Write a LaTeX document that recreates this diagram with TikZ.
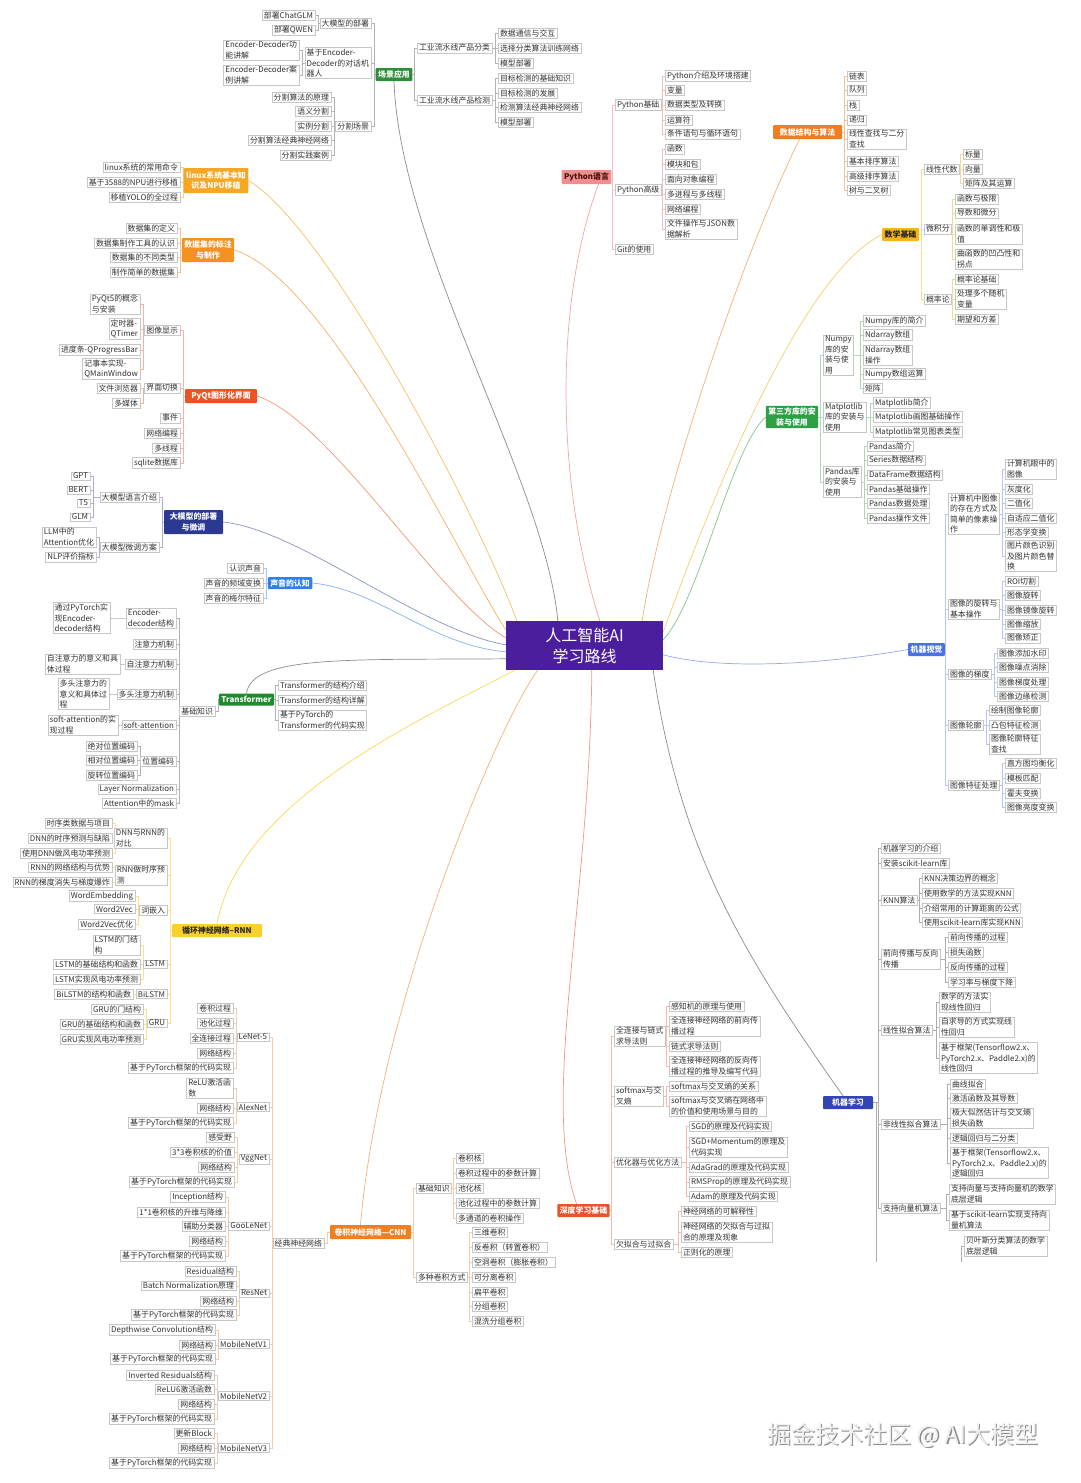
\documentclass[tikz,border=0pt]{standalone}
\usepackage{fontspec}
\setmainfont{Noto Sans CJK SC}
\usetikzlibrary{backgrounds}
\definecolor{cPurple}{HTML}{4B1E9E}
\definecolor{cScene}{HTML}{2F8C3A}
\definecolor{cLinux}{HTML}{F5A623}
\definecolor{cData}{HTML}{F39121}
\definecolor{cPyqt}{HTML}{EA5421}
\definecolor{cLlm}{HTML}{2B3990}
\definecolor{cSound}{HTML}{2F80ED}
\definecolor{cTrans}{HTML}{1E8C2E}
\definecolor{cRnn}{HTML}{FAD02C}
\definecolor{cCnn}{HTML}{F07F22}
\definecolor{cDeep}{HTML}{E8532B}
\definecolor{cMl}{HTML}{3444B3}
\definecolor{cCv}{HTML}{4A72E5}
\definecolor{cThird}{HTML}{2EA043}
\definecolor{cMath}{HTML}{F4B41A}
\definecolor{cDs}{HTML}{F07D22}
\definecolor{cPy}{HTML}{F28D8D}
\definecolor{cPyText}{HTML}{4A0E0E}
\newcommand\fs{\fontsize{7.9}{10.5}\selectfont}
\tikzset{
 lf/.style={draw=black!22, line width=0.4pt, fill=white, inner xsep=1.8pt, inner ysep=1.2pt, align=left, font=\fs, text=black!80},
 mt/.style={fill=#1, inner xsep=2.5pt, inner ysep=2pt, align=center, font=\fs\bfseries, text=white, rounded corners=1pt},
 cn/.style={draw=#1, line width=0.5pt},
 mc/.style={draw=#1, line width=0.7pt},
}
\newcommand\lfw[4]{\node[lf,anchor=west] (#1) at (#2,#3) {#4};}
\newcommand\lfe[4]{\node[lf,anchor=east] (#1) at (#2,#3) {#4};}
\newcommand\brR[3]{\foreach \kid in {#3}{\draw[cn=#1] (#2.east) -| ([xshift=-3pt]\kid.west) -- (\kid.west);}}
\newcommand\brL[3]{\foreach \kid in {#3}{\draw[cn=#1] (#2.west) -| ([xshift=3pt]\kid.east) -- (\kid.east);}}
\begin{document}
\begin{tikzpicture}[x=1pt,y=-1pt]
\useasboundingbox (0,0) rectangle (1080,1483);

% root
\node[fill=cPurple, text=white, font=\fontsize{16}{21}\selectfont, align=center, minimum width=157, minimum height=49, inner sep=0pt] (root) at (584.5,645.5) {人工智能AI\\学习路线};

% ---------- scene
\node[mt=cScene,minimum width=36,minimum height=13] (scene) at (394,74.5) {场景应用};
\lfe{s1}{371}{23}{大模型的部署}
\lfe{s2}{371}{63}{基于Encoder-\\Decoder的对话机\\器人}
\lfe{s3}{371}{126}{分割场景}
\lfe{s1a}{315}{15}{部署ChatGLM}
\lfe{s1b}{315}{30}{部署QWEN}
\lfe{s2a}{299}{50}{Encoder-Decoder功\\能讲解}
\lfe{s2b}{299}{75}{Encoder-Decoder案\\例讲解}
\lfe{s3a}{331}{97}{分割算法的原理}
\lfe{s3b}{331}{111}{语义分割}
\lfe{s3c}{331}{126}{实例分割}
\lfe{s3d}{331}{140}{分割算法经典神经网络}
\lfe{s3e}{331}{155}{分割实践案例}
\lfw{s4}{417}{48}{工业流水线产品分类}
\lfw{s5}{417}{100}{工业流水线产品检测}
\lfw{s4a}{498}{33}{数据通信与交互}
\lfw{s4b}{498}{48}{选择分类算法训练网络}
\lfw{s4c}{498}{63}{模型部署}
\lfw{s5a}{498}{78}{目标检测的基础知识}
\lfw{s5b}{498}{93}{目标检测的发展}
\lfw{s5c}{498}{107}{检测算法经典神经网络}
\lfw{s5d}{498}{122}{模型部署}

% ---------- linux
\node[mt=cLinux,minimum width=64,minimum height=25] (linux) at (216,180.5) {linux系统基本知\\识及NPU移植};
\lfe{l1}{180}{167}{linux系统的常用命令}
\lfe{l2}{180}{182}{基于3588的NPU进行移植}
\lfe{l3}{180}{197}{移植YOLO的全过程}

% ---------- dataset
\node[mt=cData,minimum width=52,minimum height=24] (dataset) at (208,250) {数据集的标注\\与制作};
\lfe{d1}{177}{228}{数据集的定义}
\lfe{d2}{177}{243}{数据集制作工具的认识}
\lfe{d3}{177}{257}{数据集的不同类型}
\lfe{d4}{177}{272}{制作简单的数据集}

% ---------- pyqt
\node[mt=cPyqt,minimum width=72,minimum height=14] (pyqt) at (221,396) {PyQt图形化界面};
\lfe{q1}{180}{330}{图像显示}
\lfe{q2}{180}{388}{界面切换}
\lfe{q3}{180}{418}{事件}
\lfe{q4}{180}{433}{网络编程}
\lfe{q5}{180}{448}{多线程}
\lfe{q6}{180}{463}{sqlite数据库}
\lfe{q1a}{140}{304}{PyQt5的概念\\与安装}
\lfe{q1b}{140}{329}{定时器-\\QTimer}
\lfe{q1c}{140}{350}{进度条-QProgressBar}
\lfe{q1d}{140}{369}{记事本实现-\\QMainWindow}
\lfe{q2a}{140}{388}{文件浏览器}
\lfe{q2b}{140}{403}{多媒体}

% ---------- llm
\node[mt=cLlm,minimum width=59,minimum height=24] (llm) at (193.5,522) {大模型的部署\\与微调};
\lfe{m1}{159}{497}{大模型语言介绍}
\lfe{m2}{159}{547}{大模型微调方案}
\lfe{m1a}{90}{476}{GPT}
\lfe{m1b}{90}{490}{BERT}
\lfe{m1c}{90}{503}{T5}
\lfe{m1d}{90}{517}{GLM}
\lfe{m2a}{96}{537}{LLM中的\\Attention优化}
\lfe{m2b}{96}{557}{NLP评价指标}

% ---------- sound
\node[mt=cSound,minimum width=44,minimum height=12] (sound) at (290,583) {声音的认知};
\lfe{a1}{263}{568}{认识声音}
\lfe{a2}{263}{583}{声音的频域变换}
\lfe{a3}{263}{598}{声音的梅尔特征}

% ---------- transformer
\node[mt=cTrans,minimum width=51,minimum height=12] (trans) at (246.5,699.5) {Transformer};
\lfw{t1}{278}{685}{Transformer的结构介绍}
\lfw{t2}{278}{700}{Transformer的结构详解}
\lfw{t3}{278}{720}{基于PyTorch的\\Transformer的代码实现}
\lfe{t4}{215}{711}{基础知识}
\lfe{b1}{176}{618}{Encoder-\\decoder结构}
\lfe{b2}{176}{644}{注意力机制}
\lfe{b3}{176}{664}{自注意力机制}
\lfe{b4}{176}{694}{多头注意力机制}
\lfe{b5}{176}{725}{soft-attention}
\lfe{b6}{176}{761}{位置编码}
\lfe{b7}{176}{789}{Layer Normalization}
\lfe{b8}{176}{803}{Attention中的mask}
\lfe{b1a}{110}{618}{通过PyTorch实\\现Encoder-\\decoder结构}
\lfe{b3a}{120}{664}{自注意力的意义和具\\体过程}
\lfe{b4a}{109}{694}{多头注意力的\\意义和具体过\\程}
\lfe{b5a}{118}{725}{soft-attention的实\\现过程}
\lfe{b6a}{137}{746}{绝对位置编码}
\lfe{b6b}{137}{760}{相对位置编码}
\lfe{b6c}{137}{775}{旋转位置编码}

% ---------- rnn
\node[mt=cRnn,text=black!85,minimum width=90,minimum height=13] (rnn) at (217,930.5) {循环神经网络--RNN};
\lfe{r1}{167}{838}{DNN与RNN的\\对比}
\lfe{r2}{167}{875}{RNN做时序预\\测}
\lfe{r3}{167}{910}{词嵌入}
\lfe{r4}{167}{964}{LSTM}
\lfe{r5}{167}{994}{BiLSTM}
\lfe{r6}{167}{1023}{GRU}
\lfe{r1a}{112}{823}{时序类数据与项目}
\lfe{r1b}{112}{838}{DNN的时序预测与缺陷}
\lfe{r1c}{112}{853}{使用DNN做风电功率预测}
\lfe{r2a}{112}{867}{RNN的网络结构与优势}
\lfe{r2b}{112}{882}{RNN的梯度消失与梯度爆炸}
\lfe{r3a}{135}{896}{WordEmbedding}
\lfe{r3b}{135}{909}{Word2Vec}
\lfe{r3c}{135}{924}{Word2Vec优化}
\lfe{r4a}{140}{945}{LSTM的门结\\构}
\lfe{r4b}{140}{964}{LSTM的基础结构和函数}
\lfe{r4c}{140}{979}{LSTM实现风电功率预测}
\lfe{r5a}{133}{994}{BiLSTM的结构和函数}
\lfe{r6a}{143}{1009}{GRU的门结构}
\lfe{r6b}{143}{1024}{GRU的基础结构和函数}
\lfe{r6c}{143}{1039}{GRU实现风电功率预测}

% ---------- cnn
\node[mt=cCnn,minimum width=81,minimum height=14] (cnn) at (370.5,1232) {卷积神经网络—CNN};
\lfe{c1}{324}{1243}{经典神经网络}
\lfw{c2}{416}{1188}{基础知识}
\lfw{c3}{416}{1277}{多种卷积方式}
\lfe{n1}{269}{1037}{LeNet-5}
\lfe{n2}{269}{1107}{AlexNet}
\lfe{n3}{269}{1159}{VggNet}
\lfe{n4}{269}{1226}{GooLeNet}
\lfe{n5}{269}{1293}{ResNet}
\lfe{n6}{269}{1344}{MobileNetV1}
\lfe{n7}{269}{1396}{MobileNetV2}
\lfe{n8}{269}{1448}{MobileNetV3}
\lfe{n1a}{233}{1008}{卷积过程}
\lfe{n1b}{233}{1023}{池化过程}
\lfe{n1c}{233}{1038}{全连接过程}
\lfe{n1d}{233}{1053}{网络结构}
\lfe{n1e}{233}{1068}{基于PyTorch框架的代码实现}
\lfe{n2a}{233}{1088}{ReLU激活函\\数}
\lfe{n2b}{233}{1108}{网络结构}
\lfe{n2c}{233}{1123}{基于PyTorch框架的代码实现}
\lfe{n3a}{234}{1137}{感受野}
\lfe{n3b}{234}{1152}{3*3卷积核的价值}
\lfe{n3c}{234}{1167}{网络结构}
\lfe{n3d}{234}{1182}{基于PyTorch框架的代码实现}
\lfe{n4a}{225}{1197}{Inception结构}
\lfe{n4b}{225}{1212}{1*1卷积核的升维与降维}
\lfe{n4c}{225}{1226}{辅助分类器}
\lfe{n4d}{225}{1241}{网络结构}
\lfe{n4e}{225}{1256}{基于PyTorch框架的代码实现}
\lfe{n5a}{236}{1271}{Residual结构}
\lfe{n5b}{236}{1286}{Batch Normalization原理}
\lfe{n5c}{236}{1301}{网络结构}
\lfe{n5d}{236}{1315}{基于PyTorch框架的代码实现}
\lfe{n6a}{215}{1330}{Depthwise Convolution结构}
\lfe{n6b}{215}{1345}{网络结构}
\lfe{n6c}{215}{1359}{基于PyTorch框架的代码实现}
\lfe{n7a}{214}{1375}{Inverted Residuals结构}
\lfe{n7b}{214}{1389}{ReLU6激活函数}
\lfe{n7c}{214}{1404}{网络结构}
\lfe{n7d}{214}{1419}{基于PyTorch框架的代码实现}
\lfe{n8a}{214}{1433}{更新Block}
\lfe{n8b}{214}{1448}{网络结构}
\lfe{n8c}{214}{1463}{基于PyTorch框架的代码实现}
\lfw{c2a}{456}{1158}{卷积核}
\lfw{c2b}{456}{1173}{卷积过程中的参数计算}
\lfw{c2c}{456}{1188}{池化核}
\lfw{c2d}{456}{1203}{池化过程中的参数计算}
\lfw{c2e}{456}{1218}{多通道的卷积操作}
\lfw{c3a}{472}{1232}{三维卷积}
\lfw{c3b}{472}{1247}{反卷积（转置卷积）}
\lfw{c3c}{472}{1262}{空洞卷积（膨胀卷积）}
\lfw{c3d}{472}{1277}{可分离卷积}
\lfw{c3e}{472}{1292}{扁平卷积}
\lfw{c3f}{472}{1306}{分组卷积}
\lfw{c3g}{472}{1321}{混洗分组卷积}

% ---------- deep learning
\node[mt=cDeep,minimum width=51,minimum height=13] (deep) at (583.5,1210.5) {深度学习基础};
\lfw{e1}{614}{1036}{全连接与链式\\求导法则}
\lfw{e2}{614}{1096}{softmax与交\\叉熵}
\lfw{e3}{614}{1162}{优化器与优化方法}
\lfw{e4}{614}{1244}{欠拟合与过拟合}
\lfw{e1a}{669}{1006}{感知机的原理与使用}
\lfw{e1b}{669}{1026}{全连接神经网络的前向传\\播过程}
\lfw{e1c}{669}{1046}{链式求导法则}
\lfw{e1d}{669}{1066}{全连接神经网络的反向传\\播过程的推导及编写代码}
\lfw{e2a}{669}{1086}{softmax与交叉熵的关系}
\lfw{e2b}{669}{1106}{softmax与交叉熵在网络中\\的价值和使用场景与目的}
\lfw{e3a}{689}{1126}{SGD的原理及代码实现}
\lfw{e3b}{689}{1147}{SGD+Momentum的原理及\\代码实现}
\lfw{e3c}{689}{1167}{AdaGrad的原理及代码实现}
\lfw{e3d}{689}{1182}{RMSProp的原理及代码实现}
\lfw{e3e}{689}{1196}{Adam的原理及代码实现}
\lfw{e4a}{681}{1211}{神经网络的可解释性}
\lfw{e4b}{681}{1232}{神经网络的欠拟合与过拟\\合的原理及现象}
\lfw{e4c}{681}{1252}{正则化的原理}

% ---------- python
\node[mt=cPy,text=cPyText,minimum width=47,minimum height=14] (py) at (586.5,177) {Python语言};
\lfw{p1}{615}{105}{Python基础}
\lfw{p2}{615}{190}{Python高级}
\lfw{p3}{615}{249}{Git的使用}
\lfw{p1a}{665}{76}{Python介绍及环境搭建}
\lfw{p1b}{665}{90}{变量}
\lfw{p1c}{665}{105}{数据类型及转换}
\lfw{p1d}{665}{120}{运算符}
\lfw{p1e}{665}{134}{条件语句与循环语句}
\lfw{p2a}{665}{149}{函数}
\lfw{p2b}{665}{164}{模块和包}
\lfw{p2c}{665}{179}{面向对象编程}
\lfw{p2d}{665}{194}{多进程与多线程}
\lfw{p2e}{665}{209}{网络编程}
\lfw{p2f}{665}{229}{文件操作与JSON数\\据解析}

% ---------- data structures
\node[mt=cDs,minimum width=69,minimum height=14] (ds) at (807.5,132) {数据结构与算法};
\lfw{ds1}{847}{76}{链表}
\lfw{ds2}{847}{90}{队列}
\lfw{ds3}{847}{105}{栈}
\lfw{ds4}{847}{120}{递归}
\lfw{ds5}{847}{139}{线性查找与二分\\查找}
\lfw{ds6}{847}{161}{基本排序算法}
\lfw{ds7}{847}{176}{高级排序算法}
\lfw{ds8}{847}{190}{树与二叉树}

% ---------- math
\node[mt=cMath,text=black!85,minimum width=35,minimum height=13] (math) at (900.5,234.5) {数学基础};
\lfw{h1}{924}{169}{线性代数}
\lfw{h2}{924}{229}{微积分}
\lfw{h3}{924}{299}{概率论}
\lfw{h1a}{963}{154}{标量}
\lfw{h1b}{963}{169}{向量}
\lfw{h1c}{963}{183}{矩阵及其运算}
\lfw{h2a}{955}{199}{函数与极限}
\lfw{h2b}{955}{213}{导数和微分}
\lfw{h2c}{955}{234}{函数的单调性和极\\值}
\lfw{h2d}{955}{259}{曲函数的凹凸性和\\拐点}
\lfw{h3a}{955}{279}{概率论基础}
\lfw{h3b}{955}{299}{处理多个随机\\变量}
\lfw{h3c}{955}{319}{期望和方差}

% ---------- third-party
\node[mt=cThird,minimum width=52,minimum height=22] (third) at (792,417) {第三方库的安\\装与使用};
\lfw{k1}{823}{355}{Numpy\\库的安\\装与使\\用}
\lfw{k2}{823}{417}{Matplotlib\\库的安装与\\使用}
\lfw{k3}{823}{482}{Pandas库\\的安装与\\使用}
\lfw{k1a}{863}{321}{Numpy库的简介}
\lfw{k1b}{863}{335}{Ndarray数组}
\lfw{k1c}{863}{355}{Ndarray数组\\操作}
\lfw{k1d}{863}{374}{Numpy数组运算}
\lfw{k1e}{863}{388}{矩阵}
\lfw{k2a}{873}{403}{Matplotlib简介}
\lfw{k2b}{873}{417}{Matplotlib画图基础操作}
\lfw{k2c}{873}{432}{Matplotlib常见图表类型}
\lfw{k3a}{867}{446}{Pandas简介}
\lfw{k3b}{867}{460}{Series数据结构}
\lfw{k3c}{867}{475}{DataFrame数据结构}
\lfw{k3d}{867}{489}{Pandas基础操作}
\lfw{k3e}{867}{503}{Pandas数据处理}
\lfw{k3f}{867}{518}{Pandas操作文件}

% ---------- vision
\node[mt=cCv,minimum width=35,minimum height=13] (cv) at (926.5,649.5) {机器视觉};
\lfw{v1}{948}{514}{计算机中图像\\的存在方式及\\简单的像素操\\作}
\lfw{v2}{948}{609}{图像的旋转与\\基本操作}
\lfw{v3}{948}{674}{图像的梯度}
\lfw{v4}{948}{725}{图像轮廓}
\lfw{v5}{948}{785}{图像特征处理}
\lfw{v1a}{1005}{469}{计算机眼中的\\图像}
\lfw{v1b}{1005}{489}{灰度化}
\lfw{v1c}{1005}{503}{二值化}
\lfw{v1d}{1005}{518}{自适应二值化}
\lfw{v1e}{1005}{532}{形态学变换}
\lfw{v1f}{1005}{556}{图片颜色识别\\及图片颜色替\\换}
\lfw{v2a}{1005}{581}{ROI切割}
\lfw{v2b}{1005}{595}{图像旋转}
\lfw{v2c}{1005}{610}{图像镜像旋转}
\lfw{v2d}{1005}{624}{图像缩放}
\lfw{v2e}{1005}{638}{图像矫正}
\lfw{v3a}{997}{653}{图像添加水印}
\lfw{v3b}{997}{667}{图像噪点消除}
\lfw{v3c}{997}{682}{图像梯度处理}
\lfw{v3d}{997}{696}{图像边缘检测}
\lfw{v4a}{989}{710}{绘制图像轮廓}
\lfw{v4b}{989}{725}{凸包特征检测}
\lfw{v4c}{989}{744}{图像轮廓特征\\查找}
\lfw{v5a}{1005}{763}{直方图均衡化}
\lfw{v5b}{1005}{778}{模板匹配}
\lfw{v5c}{1005}{793}{霍夫变换}
\lfw{v5d}{1005}{807}{图像亮度变换}

% ---------- machine learning
\node[mt=cMl,minimum width=50,minimum height=13] (ml) at (848,1102.5) {机器学习};
\lfw{g1}{881}{848}{机器学习的介绍}
\lfw{g2}{881}{863}{安装scikit-learn库}
\lfw{g3}{881}{900}{KNN算法}
\lfw{g4}{881}{959}{前向传播与反向\\传播}
\lfw{g5}{881}{1030}{线性拟合算法}
\lfw{g6}{881}{1124}{非线性拟合算法}
\lfw{g7}{881}{1208}{支持向量机算法}
\lfw{g3a}{922}{878}{KNN决策边界的概念}
\lfw{g3b}{922}{893}{使用数学的方法实现KNN}
\lfw{g3c}{922}{908}{介绍常用的计算距离的公式}
\lfw{g3d}{922}{922}{使用scikit-learn库实现KNN}
\lfw{g4a}{948}{937}{前向传播的过程}
\lfw{g4b}{948}{952}{损失函数}
\lfw{g4c}{948}{967}{反向传播的过程}
\lfw{g4d}{948}{982}{学习率与梯度下降}
\lfw{g5a}{939}{1002}{数学的方法实\\现线性回归}
\lfw{g5b}{939}{1027}{自求导的方式实现线\\性回归}
\lfw{g5c}{939}{1058}{基于框架(Tensorflow2.x、\\PyTorch2.x、Paddle2.x)的\\线性回归}
\lfw{g6a}{950}{1084}{曲线拟合}
\lfw{g6b}{950}{1098}{激活函数及其导数}
\lfw{g6c}{950}{1118}{极大似然估计与交叉熵\\损失函数}
\lfw{g6d}{950}{1138}{逻辑回归与二分类}
\lfw{g6e}{950}{1163}{基于框架(Tensorflow2.x、\\PyTorch2.x、Paddle2.x)的\\逻辑回归}
\lfw{g7a}{949}{1194}{支持向量与支持向量机的数学\\底层逻辑}
\lfw{g7b}{949}{1220}{基于scikit-learn实现支持向\\量机算法}
\lfw{g9}{964}{1246}{贝叶斯分类算法的数学\\底层逻辑}
\coordinate (gEnd) at (876,1262);
\coordinate (g9p) at (961,1262);

% watermark
\node[font=\fontsize{24}{28}\selectfont, text=black!45] (wms) at (904.2,1436.2) {掘金技术社区 @ AI大模型};
\node[font=\fontsize{24}{28}\selectfont, text=black!6] (wm) at (903,1435) {掘金技术社区 @ AI大模型};

% ---------- connectors
\begin{pgfonlayer}{background}
\fill[white] (0,0) rectangle (1080,1483);
% main curves
\draw[mc=black!45] ([xshift=52pt]root.north west) .. controls (545,480) and (400,250) .. (scene.south);
\draw[mc=cLinux!70] ([xshift=11pt]root.north west) .. controls (480,520) and (330,230) .. (linux.east);
\draw[mc=cData!70] ([yshift=-9pt]root.north west) .. controls (460,560) and (330,280) .. (dataset.east);
\draw[mc=cPyqt!60] ([yshift=-17pt]root.north west) .. controls (440,600) and (330,420) .. (pyqt.east);
\draw[mc=cLlm!55] ([yshift=-24pt]root.north west) .. controls (420,630) and (300,530) .. (llm.east);
\draw[mc=cSound!60] ([yshift=-31pt]root.north west) .. controls (430,645) and (380,590) .. (sound.east);
\draw[mc=black!45] ([yshift=-38pt]root.north west) .. controls (350,660) and (252,655) .. (trans.north);
\draw[mc=cRnn!80] ([xshift=9pt]root.south west) .. controls (420,720) and (240,800) .. (rnn.north);
\draw[mc=cCnn!60] ([xshift=32pt]root.south west) .. controls (500,720) and (380,1000) .. ([xshift=-10pt]cnn.north);
\draw[mc=cDeep!60] ([xshift=86pt]root.south west) .. controls (590,900) and (540,1100) .. ([xshift=-7pt]deep.north);
\draw[mc=black!45] ([xshift=-10pt]root.south east) .. controls (680,850) and (740,950) .. ([xshift=-5pt]ml.north);
\draw[mc=cPy!80] ([xshift=94pt]root.north west) .. controls (555,480) and (555,300) .. ([xshift=12pt]py.south);
\draw[mc=cDs!60] ([xshift=-21pt]root.north east) .. controls (660,500) and (740,260) .. ([xshift=-8pt]ds.south);
\draw[mc=cMath!65] ([yshift=-11pt]root.north east) .. controls (690,560) and (790,280) .. (math.west);
\draw[mc=cThird!60] ([yshift=-19pt]root.north east) .. controls (700,600) and (730,450) .. (third.west);
\draw[mc=cCv!60] ([yshift=-34pt]root.north east) .. controls (720,670) and (820,665) .. (cv.west);
% scene
\brL{black!30}{scene}{s1,s2,s3}
\brR{black!30}{scene}{s4,s5}
\brL{black!30}{s1}{s1a,s1b}
\brL{black!30}{s2}{s2a,s2b}
\brL{black!30}{s3}{s3a,s3b,s3c,s3d,s3e}
\brR{black!30}{s4}{s4a,s4b,s4c}
\brR{black!30}{s5}{s5a,s5b,s5c,s5d}
% linux, dataset, pyqt, llm, sound
\brL{cLinux!55}{linux}{l1,l2,l3}
\brL{cData!55}{dataset}{d1,d2,d3,d4}
\brL{cPyqt!45}{pyqt}{q1,q2,q3,q4,q5,q6}
\brL{cPyqt!45}{q1}{q1a,q1b,q1c,q1d}
\brL{cPyqt!45}{q2}{q2a,q2b}
\brL{cLlm!40}{llm}{m1,m2}
\brL{cLlm!40}{m1}{m1a,m1b,m1c,m1d}
\brL{cLlm!40}{m2}{m2a,m2b}
\brL{cSound!45}{sound}{a1,a2,a3}
% transformer
\brR{black!30}{trans}{t1,t2,t3}
\brL{black!30}{trans}{t4}
\brL{black!30}{t4}{b1,b2,b3,b4,b5,b6,b7,b8}
\brL{black!30}{b1}{b1a}
\brL{black!30}{b3}{b3a}
\brL{black!30}{b4}{b4a}
\brL{black!30}{b5}{b5a}
\brL{black!30}{b6}{b6a,b6b,b6c}
% rnn
\brL{cRnn!60}{rnn}{r1,r2,r3,r4,r5,r6}
\brL{cRnn!60}{r1}{r1a,r1b,r1c}
\brL{cRnn!60}{r2}{r2a,r2b}
\brL{cRnn!60}{r3}{r3a,r3b,r3c}
\brL{cRnn!60}{r4}{r4a,r4b,r4c}
\brL{cRnn!60}{r5}{r5a}
\brL{cRnn!60}{r6}{r6a,r6b,r6c}
% cnn
\brL{cCnn!40}{cnn}{c1}
\brR{cCnn!40}{cnn}{c2,c3}
\brL{cCnn!40}{c1}{n1,n2,n3,n4,n5,n6,n7,n8}
\brL{cCnn!40}{n1}{n1a,n1b,n1c,n1d,n1e}
\brL{cCnn!40}{n2}{n2a,n2b,n2c}
\brL{cCnn!40}{n3}{n3a,n3b,n3c,n3d}
\brL{cCnn!40}{n4}{n4a,n4b,n4c,n4d,n4e}
\brL{cCnn!40}{n5}{n5a,n5b,n5c,n5d}
\brL{cCnn!40}{n6}{n6a,n6b,n6c}
\brL{cCnn!40}{n7}{n7a,n7b,n7c,n7d}
\brL{cCnn!40}{n8}{n8a,n8b,n8c}
\brR{cCnn!40}{c2}{c2a,c2b,c2c,c2d,c2e}
\brR{cCnn!40}{c3}{c3a,c3b,c3c,c3d,c3e,c3f,c3g}
% deep
\brR{cDeep!40}{deep}{e1,e2,e3,e4}
\brR{cDeep!40}{e1}{e1a,e1b,e1c,e1d}
\brR{cDeep!40}{e2}{e2a,e2b}
\brR{cDeep!40}{e3}{e3a,e3b,e3c,e3d,e3e}
\brR{cDeep!40}{e4}{e4a,e4b,e4c}
% python
\brR{cPy!60}{py}{p1,p2,p3}
\brR{cPy!60}{p1}{p1a,p1b,p1c,p1d,p1e}
\brR{cPy!60}{p2}{p2a,p2b,p2c,p2d,p2e,p2f}
% ds
\brR{cDs!50}{ds}{ds1,ds2,ds3,ds4,ds5,ds6,ds7,ds8}
% math
\brR{cMath!50}{math}{h1,h2,h3}
\brR{cMath!50}{h1}{h1a,h1b,h1c}
\brR{cMath!50}{h2}{h2a,h2b,h2c,h2d}
\brR{cMath!50}{h3}{h3a,h3b,h3c}
% third
\brR{cThird!40}{third}{k1,k2,k3}
\brR{cThird!40}{k1}{k1a,k1b,k1c,k1d,k1e}
\brR{cThird!40}{k2}{k2a,k2b,k2c}
\brR{cThird!40}{k3}{k3a,k3b,k3c,k3d,k3e,k3f}
% cv
\brR{cCv!40}{cv}{v1,v2,v3,v4,v5}
\brR{cCv!40}{v1}{v1a,v1b,v1c,v1d,v1e,v1f}
\brR{cCv!40}{v2}{v2a,v2b,v2c,v2d,v2e}
\brR{cCv!40}{v3}{v3a,v3b,v3c,v3d}
\brR{cCv!40}{v4}{v4a,v4b,v4c}
\brR{cCv!40}{v5}{v5a,v5b,v5c,v5d}
% ml
\brR{black!32}{ml}{g1,g2,g3,g4,g5,g6,g7}
\draw[cn=black!32] (ml.east) -| (gEnd);
\brR{black!32}{g3}{g3a,g3b,g3c,g3d}
\brR{black!32}{g4}{g4a,g4b,g4c,g4d}
\brR{black!32}{g5}{g5a,g5b,g5c}
\brR{black!32}{g6}{g6a,g6b,g6c,g6d,g6e}
\brR{black!32}{g7}{g7a,g7b}
\draw[cn=black!32] (g9.west) -| (g9p);
\end{pgfonlayer}
\end{tikzpicture}
\end{document}
